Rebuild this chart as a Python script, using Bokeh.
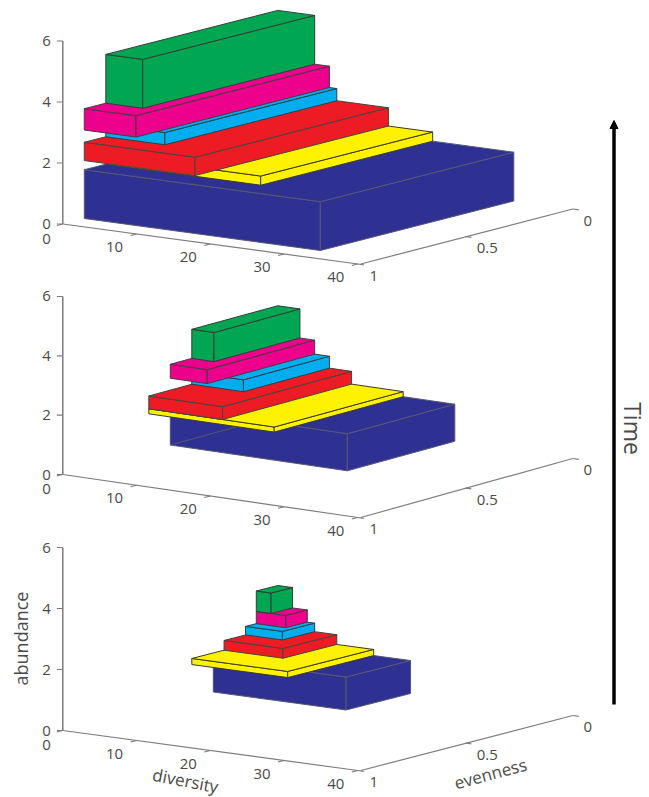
import math
import numpy as np
from bokeh.core.properties import value
from bokeh.embed import file_html
from bokeh.models import Arrow, NormalHead, Range1d
from bokeh.plotting import figure
from bokeh.resources import INLINE

layer_colors = ["#2E3192", "#FFF200", "#ED1C24", "#00AEEF", "#EC008C", "#00A651"]
edge_colors = ["#565675", "#3a3a2a", "#444444", "#2f3f4a", "#4a3a44", "#333d38"]

diversity_late = [32, 21, 15, 8, 7, 5]
evenness_late = [0.9, 0.8, 0.9, 0.8, 0.9, 0.8]
abundance_late = [1.6, 0.3, 0.6, 0.4, 0.7, 1.6]

diversity_mid = [24, 17, 10, 7, 5, 3]
evenness_mid = [0.5, 0.6, 0.6, 0.4, 0.5, 0.4]
abundance_mid = [1.25, 0.17, 0.43, 0.4, 0.47, 0.98]

diversity_early = [18, 13, 8, 5, 4, 2]
evenness_early = [0.3, 0.4, 0.25, 0.15, 0.1, 0.1]
abundance_early = [1.08, 0.2, 0.32, 0.28, 0.4, 0.67]

diversity_ticks = [0, 10, 20, 30, 40]
evenness_ticks = [1, 0.5, 0]
evenness_tick_labels = ["1", "0.5", "0"]
abundance_ticks = [0, 2, 4, 6]

FONT = "Open Sans"
AXIS = "#7d7d7d"
TEXT = "#4a4a4a"

# projection of each panel: baseline, abundance scale and axis slopes (screen px)
panels = [
    dict(div=diversity_late, eve=evenness_late, abu=abundance_late, oy=223.5, uz=30.5, dd=1.0, de=55),
    dict(div=diversity_mid, eve=evenness_mid, abu=abundance_mid, oy=474, uz=29.67, dd=1.075, de=59),
    dict(div=diversity_early, eve=evenness_early, abu=abundance_early, oy=730, uz=30.5, dd=1.0, de=55),
]
OX, DX, EX = 62.3, 295 / 40, 215


def project(panel, d, e, z):
    u = 1 - e
    return (OX + DX * d + EX * u,
            panel["oy"] + panel["dd"] * d - panel["de"] * u - panel["uz"] * z)


p = figure(width=649, height=797, x_range=Range1d(0, 649), y_range=Range1d(797, 0),
           output_backend="svg", toolbar_location=None, min_border=0)
p.axis.visible = False
p.grid.visible = False
p.outline_line_color = None


def face(panel, corners):
    pts = [project(panel, *c) for c in corners]
    return [q[0] for q in pts], [q[1] for q in pts]


def label(x, y, txt, size=15, angle=0.0, color=TEXT, align="center"):
    p.text([x], [y], text=[txt], text_font=value(FONT), text_font_size=f"{size}px",
           text_color=color, text_align=align, text_baseline="middle", angle=angle)


for idx, panel in enumerate(panels):
    # axes
    a = project(panel, 0, 1, 0)
    b = project(panel, 0, 1, 6)
    c = project(panel, 40, 1, 0)
    d0 = project(panel, 40, 0, 0)
    p.line([a[0], b[0]], [a[1], b[1]], line_color=AXIS, line_width=1.5)
    p.line([a[0], c[0]], [a[1], c[1]], line_color=AXIS, line_width=1.2)
    p.line([c[0] + 3, d0[0]], [c[1], d0[1]], line_color=AXIS, line_width=1.2)
    for z in abundance_ticks:
        t = project(panel, 0, 1, z)
        p.line([t[0] - 6, t[0]], [t[1], t[1]], line_color=AXIS, line_width=1.2)
        label(46, t[1], str(z))
    for d in diversity_ticks:
        t = project(panel, d, 1, 0)
        p.line([t[0] - 6, t[0]], [t[1] + 1.5, t[1]], line_color=AXIS, line_width=1.2)
        if d == 0:
            label(46, t[1] + 14.5, str(d))
        else:
            label(t[0] - 22, t[1] + 13, str(d))
    for e, lab in zip(evenness_ticks, evenness_tick_labels):
        t = project(panel, 40, e, 0)
        p.line([t[0], t[0] + 6], [t[1], t[1] + 0.8], line_color=AXIS, line_width=1.2)
        off = {"1": 16, "0.5": 22, "0": 15}[lab]
        label(t[0] + off, t[1] + 11.5, lab)

    # stacked boxes, bottom layer first
    base = np.concatenate([[0], np.cumsum(panel["abu"])[:-1]])
    for i, (d, e, h, z0) in enumerate(zip(panel["div"], panel["eve"], panel["abu"], base)):
        z1 = z0 + h
        faces = [
            [(0, e, z0), (d, e, z0), (d, e, z1), (0, e, z1)],
            [(d, e, z0), (d, 0, z0), (d, 0, z1), (d, e, z1)],
            [(0, e, z1), (d, e, z1), (d, 0, z1), (0, 0, z1)],
        ]
        xs, ys = zip(*[face(panel, f) for f in faces])
        p.patches(list(xs), list(ys), fill_color=layer_colors[i],
                  line_color=edge_colors[i], line_width=1)
        if idx == 1 and i == 0:
            # the see-through base edge visible on the middle panel's lowest box
            q0 = project(panel, 0, e, 0)
            q1 = project(panel, 0, 0, 0)
            p.line([q0[0], q1[0]], [q0[1], q1[1]], line_color=edge_colors[0], line_width=1)

label(20, 638, "abundance", size=18, angle=math.pi / 2)
label(185, 780, "diversity", size=17, angle=-math.radians(11))
label(490, 773, "evenness", size=17, angle=math.radians(15))
label(632, 428, "Time", size=23, angle=-math.pi / 2)

p.add_layout(Arrow(end=NormalHead(size=8, fill_color="black", line_color="black"),
                   x_start=613.5, y_start=704, x_end=613.5, y_end=120,
                   line_color="black", line_width=3.5))

open("out.html", "w").write(file_html(p, INLINE))
